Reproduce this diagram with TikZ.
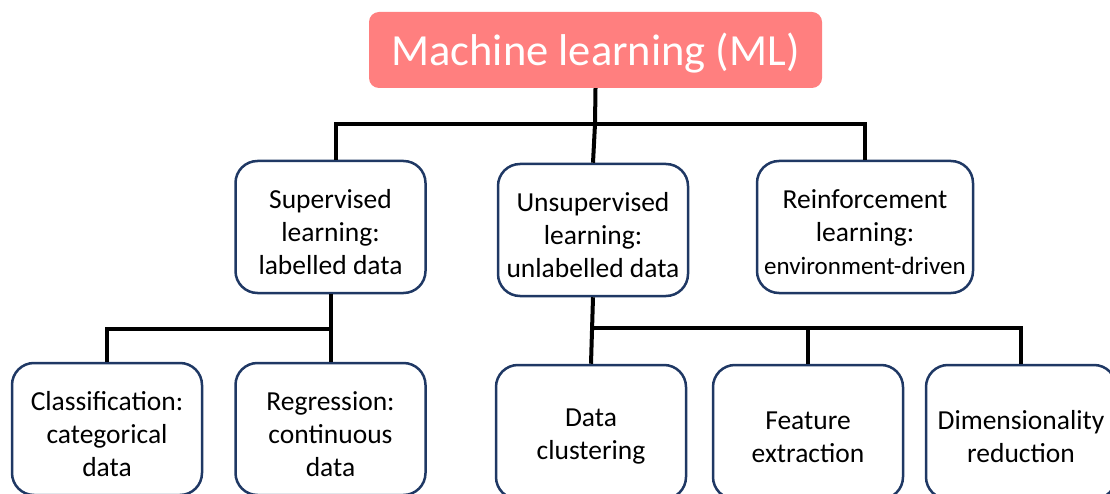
\documentclass[tikz,border=0pt]{standalone}
\usepackage{fontspec}
\setmainfont{Carlito}
\definecolor{titlefill}{HTML}{FF7F7F}
\definecolor{boxline}{HTML}{1F3864}
\begin{document}
\begin{tikzpicture}[x=1pt,y=-1pt,
  titlebox/.style={rectangle, rounded corners=10pt, fill=titlefill, draw=none,
    minimum width=453pt, minimum height=76pt, inner sep=0pt},
  titletext/.style={text=white, inner sep=0pt, yshift=-3pt,
    font=\fontsize{44.5}{54}\selectfont},
  catbox/.style={rectangle, rounded corners=22pt, draw=boxline, line width=2.5pt,
    fill=white, minimum width=190pt, minimum height=132pt, inner sep=0pt},
  boxtext/.style={align=center, inner sep=0pt, yshift=-5pt,
    font=\fontsize{27.5}{33}\selectfont},
  conn/.style={draw=black, line width=4pt, line join=miter}]
\useasboundingbox (0,0) rectangle (1110,494);

% root
\node[titlebox, label={[titletext]center:Machine learning (ML)}] (ml) at (595.5,50) {};

% learning paradigms
\node[catbox, label={[boxtext]center:{Supervised\\learning:\\labelled data}}]
  (sup) at (330.5,227) {};
\node[catbox, label={[boxtext]center:{Unsupervised\\learning:\\unlabelled data}}]
  (unsup) at (593,230) {};
\node[catbox, minimum width=216pt,
  label={[boxtext]center:{Reinforcement\\learning:\\{\fontsize{25}{33}\selectfont environment-driven}}}]
  (rein) at (865,227) {};

% tasks
\node[catbox, label={[boxtext]center:{Classification:\\categorical\\data}}]
  (cls) at (107,429) {};
\node[catbox, label={[boxtext]center:{Regression:\\continuous\\data}}]
  (reg) at (330.5,429) {};
\node[catbox, minimum height=134pt, label={[boxtext]center:{Data\\clustering}}]
  (clu) at (591,432) {};
\node[catbox, minimum height=134pt, label={[boxtext]center:{Feature\\extraction}}]
  (fea) at (808,432) {};
\node[catbox, minimum height=134pt, label={[boxtext]center:{Dimensionality\\reduction}}]
  (dim) at (1021,432) {};

% junctions
\coordinate (j0) at (336,124);
\coordinate (j1) at (595,124);
\coordinate (j2) at (330.5,329);
\coordinate (j3) at (591,328);

% tree connectors
\draw[conn] (ml.south) -- (j1);
\draw[conn] (j0 |- sup.north) -- (j0) -- (j1) -| (rein.north);
\draw[conn] (j1) -- (unsup.north);

\draw[conn] (sup.south) -- (reg.north);
\draw[conn] (cls.north) |- (j2);

\draw[conn] (unsup.south) -- (clu.north);
\draw[conn] (j3) -| (fea.north);
\draw[conn] (j3) -| (dim.north);
\end{tikzpicture}
\end{document}
